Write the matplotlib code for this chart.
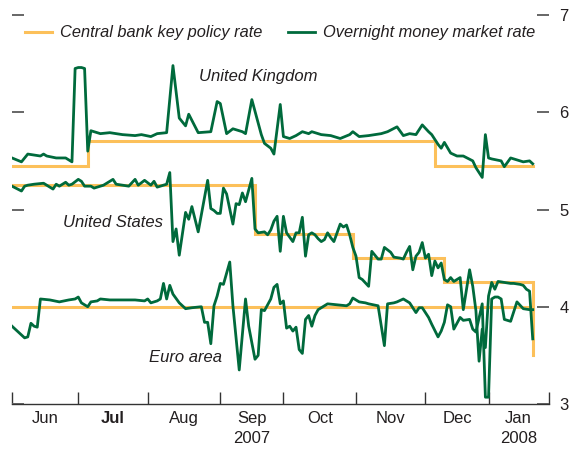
import numpy as np
import pandas as pd
import matplotlib
matplotlib.use("Agg")
import matplotlib.pyplot as plt
from matplotlib.lines import Line2D

# ---------------- data ----------------
holidays = ["2007-12-25", "2008-01-01"]

uk_dates = ["2007-06-01","2007-06-06","2007-06-08","2007-06-12","2007-06-14","2007-06-15","2007-06-18",
 "2007-06-21","2007-06-26","2007-06-28","2007-06-29","2007-07-02","2007-07-03","2007-07-04","2007-07-05",
 "2007-07-06","2007-07-10","2007-07-11","2007-07-16","2007-07-20","2007-07-26","2007-07-30","2007-08-02",
 "2007-08-06","2007-08-09","2007-08-13","2007-08-15","2007-08-17","2007-08-20","2007-08-23","2007-08-29",
 "2007-08-31","2007-09-03","2007-09-05","2007-09-07","2007-09-12","2007-09-13","2007-09-17","2007-09-20",
 "2007-09-21","2007-09-25","2007-09-26","2007-09-28","2007-10-01","2007-10-03","2007-10-05","2007-10-09",
 "2007-10-11","2007-10-12","2007-10-17","2007-10-22","2007-10-25","2007-10-30","2007-10-31","2007-11-02",
 "2007-11-07","2007-11-13","2007-11-15","2007-11-20","2007-11-22","2007-11-26","2007-11-28","2007-11-30",
 "2007-12-04","2007-12-05","2007-12-07","2007-12-10","2007-12-11","2007-12-13","2007-12-17","2007-12-19",
 "2007-12-24","2007-12-26","2007-12-28","2007-12-31","2008-01-02","2008-01-03","2008-01-08","2008-01-09",
 "2008-01-11","2008-01-15","2008-01-17","2008-01-21","2008-01-22"]
uk_overnight = [5.53,5.49,5.57,5.56,5.55,5.57,5.55,
 5.53,5.53,5.49,6.45,6.46,6.46,6.45,5.60,
 5.81,5.79,5.78,5.79,5.77,5.76,5.77,5.75,
 5.78,5.79,6.48,5.94,5.86,5.98,5.79,5.80,
 6.11,6.09,5.78,5.83,5.80,5.78,6.13,5.77,
 5.68,5.63,5.57,6.08,5.75,5.73,5.76,5.80,
 5.78,5.80,5.77,5.76,5.73,5.77,5.80,5.75,
 5.76,5.78,5.80,5.85,5.76,5.78,5.77,5.87,
 5.80,5.77,5.67,5.63,5.69,5.58,5.55,5.55,
 5.50,5.43,5.33,5.77,5.53,5.52,5.50,5.44,
 5.53,5.51,5.49,5.50,5.47]

us_dates = ["2007-06-01","2007-06-06","2007-06-07","2007-06-08","2007-06-12","2007-06-15","2007-06-18",
 "2007-06-20","2007-06-21","2007-06-22","2007-06-26","2007-06-27","2007-06-28","2007-07-02","2007-07-03",
 "2007-07-04","2007-07-06","2007-07-09","2007-07-11","2007-07-12","2007-07-17","2007-07-18","2007-07-20",
 "2007-07-24","2007-07-26","2007-07-27","2007-07-31","2007-08-02","2007-08-03","2007-08-06","2007-08-08",
 "2007-08-09","2007-08-10","2007-08-13","2007-08-14","2007-08-15","2007-08-17","2007-08-20","2007-08-21",
 "2007-08-23","2007-08-28","2007-08-29","2007-08-30","2007-08-31","2007-09-03","2007-09-04","2007-09-05",
 "2007-09-07","2007-09-10","2007-09-11","2007-09-12","2007-09-13","2007-09-17","2007-09-18","2007-09-19",
 "2007-09-21","2007-09-24","2007-09-25","2007-09-26","2007-09-27","2007-09-28","2007-10-01","2007-10-02",
 "2007-10-04","2007-10-05","2007-10-08","2007-10-09","2007-10-10","2007-10-11","2007-10-12","2007-10-15",
 "2007-10-16","2007-10-17","2007-10-18","2007-10-19","2007-10-22","2007-10-23","2007-10-24","2007-10-25",
 "2007-10-26","2007-10-29","2007-10-30","2007-10-31","2007-11-01","2007-11-02","2007-11-05","2007-11-07",
 "2007-11-08","2007-11-12","2007-11-13","2007-11-14","2007-11-16","2007-11-19","2007-11-21","2007-11-22",
 "2007-11-23","2007-11-26","2007-11-27","2007-11-28","2007-11-29","2007-11-30","2007-12-03","2007-12-04",
 "2007-12-05","2007-12-06","2007-12-07","2007-12-10","2007-12-11","2007-12-12","2007-12-13","2007-12-14",
 "2007-12-17","2007-12-18","2007-12-19","2007-12-21","2007-12-24","2007-12-26","2007-12-27","2007-12-28",
 "2007-12-31","2008-01-02","2008-01-03","2008-01-04","2008-01-07","2008-01-09","2008-01-11","2008-01-14",
 "2008-01-16","2008-01-17","2008-01-18","2008-01-21","2008-01-22"]
us_overnight = [5.24,5.19,5.24,5.25,5.26,5.27,5.25,
 5.21,5.26,5.24,5.28,5.25,5.26,5.31,5.29,
 5.24,5.24,5.22,5.24,5.25,5.31,5.26,5.25,
 5.24,5.31,5.25,5.30,5.25,5.29,5.23,5.25,
 5.26,5.38,4.67,4.80,4.53,4.97,4.90,5.03,
 4.77,5.30,5.01,4.99,4.96,4.96,5.22,5.16,
 4.85,5.06,5.05,5.17,5.08,5.32,4.80,4.76,
 4.77,4.74,4.79,4.88,4.93,4.57,4.93,4.76,
 4.67,4.76,4.76,4.92,4.52,4.74,4.76,4.74,
 4.70,4.67,4.69,4.76,4.71,4.67,4.76,4.85,
 4.82,4.84,4.74,4.61,4.52,4.30,4.28,4.21,
 4.57,4.49,4.49,4.61,4.56,4.51,4.50,4.49,
 4.56,4.62,4.38,4.52,4.56,4.66,4.50,4.54,
 4.32,4.47,4.40,4.45,4.28,4.26,4.30,4.26,
 4.28,4.30,3.97,4.38,4.21,3.96,3.44,3.77,
 3.58,4.11,4.25,4.18,4.26,4.25,4.24,4.24,
 4.23,4.22,4.18,4.16,3.67]

ea_dates = ["2007-06-01","2007-06-07","2007-06-08","2007-06-11","2007-06-12","2007-06-13","2007-06-14",
 "2007-06-19","2007-06-22","2007-06-27","2007-06-29","2007-07-02","2007-07-03","2007-07-05","2007-07-06",
 "2007-07-10","2007-07-11","2007-07-16","2007-07-23","2007-07-26","2007-07-31","2007-08-01","2007-08-02",
 "2007-08-06","2007-08-07","2007-08-08","2007-08-09","2007-08-10","2007-08-13","2007-08-15","2007-08-17",
 "2007-08-21","2007-08-24","2007-08-27","2007-08-28","2007-08-29","2007-08-30","2007-08-31","2007-09-03",
 "2007-09-04","2007-09-06","2007-09-07","2007-09-11","2007-09-13","2007-09-14","2007-09-18","2007-09-19",
 "2007-09-20","2007-09-21","2007-09-25","2007-09-26","2007-09-27","2007-09-28","2007-10-01","2007-10-02",
 "2007-10-03","2007-10-04","2007-10-05","2007-10-08","2007-10-09","2007-10-10","2007-10-11","2007-10-12",
 "2007-10-15","2007-10-16","2007-10-19","2007-10-24","2007-10-29","2007-10-30","2007-10-31","2007-11-02",
 "2007-11-06","2007-11-07","2007-11-12","2007-11-14","2007-11-15","2007-11-19","2007-11-20","2007-11-22",
 "2007-11-26","2007-11-28","2007-11-29","2007-11-30","2007-12-04","2007-12-05","2007-12-07","2007-12-10",
 "2007-12-11","2007-12-12","2007-12-13","2007-12-14","2007-12-18","2007-12-19","2007-12-21","2007-12-24",
 "2007-12-26","2007-12-28","2007-12-31","2008-01-02","2008-01-03","2008-01-04","2008-01-07","2008-01-08",
 "2008-01-09","2008-01-11","2008-01-15","2008-01-17","2008-01-21","2008-01-22"]
ea_overnight = [3.80,3.68,3.69,3.83,3.80,3.79,4.08,
 4.07,4.05,4.07,4.08,4.10,4.04,4.00,4.05,
 4.06,4.08,4.07,4.07,4.07,4.06,4.08,4.04,
 4.06,4.08,4.24,4.08,4.22,4.13,4.04,3.98,
 3.99,4.00,3.84,3.84,3.62,4.01,4.11,4.24,
 4.23,4.46,4.01,3.35,4.08,3.80,3.46,3.50,
 3.97,3.96,4.08,4.20,4.23,4.03,4.06,3.78,
 3.80,3.75,3.79,3.56,3.52,3.87,3.91,3.80,
 3.91,3.97,4.03,4.02,4.01,4.03,4.09,4.05,
 4.04,4.03,4.01,3.60,4.03,4.04,4.05,4.08,
 4.04,3.94,3.99,3.99,3.89,3.82,3.69,3.75,
 3.84,4.02,4.00,3.77,3.89,3.86,3.87,3.77,
 3.74,4.03,3.07,3.07,4.08,4.10,4.10,4.08,
 3.87,3.85,4.05,3.98,3.97,3.97]

# policy rates: value from each change date onward, last entry = end of sample
uk_policy_dates = ["2007-06-01", "2007-07-05", "2007-12-06", "2008-01-22"]
uk_policy = [5.45, 5.70, 5.45, 5.45]
us_policy_dates = ["2007-06-01", "2007-09-18", "2007-10-31", "2007-12-11", "2008-01-22"]
us_policy = [5.25, 4.75, 4.50, 4.25, 3.50]
ea_policy_dates = ["2007-06-01", "2008-01-22"]
ea_policy = [4.00, 4.00]

month_labels = ["Jun", "Jul", "Aug", "Sep\n2007", "Oct", "Nov", "Dec", "Jan\n2008"]
month_starts = ["2007-06-01", "2007-07-01", "2007-08-01", "2007-09-01", "2007-10-01",
                "2007-11-01", "2007-12-01", "2008-01-01"]
axis_end = "2008-01-29"
y_ticks = [3, 4, 5, 6, 7]

for d, v in [(uk_dates, uk_overnight), (us_dates, us_overnight), (ea_dates, ea_overnight)]:
    assert len(d) == len(v)

# ---------------- calendar (trading days) ----------------
cal = pd.bdate_range("2007-06-01", "2008-02-15")
cal = cal[~cal.isin(pd.to_datetime(holidays))]


def pos(dates):
    return cal.searchsorted(pd.to_datetime(dates))


ORANGE = "#FCC05A"
GREEN = "#006A3C"
TXT = "#231f20"
FONT = ["Liberation Sans", "DejaVu Sans"]
FS = 12.0
FS_LEG = 11.8

plt.rcParams["font.family"] = FONT

fig = plt.figure(figsize=(5.69, 4.53), dpi=100)
ax = fig.add_axes([12 / 569, 1 - 404 / 453, 536.5 / 569, 389 / 453])

for d, v in [(uk_policy_dates, uk_policy), (us_policy_dates, us_policy), (ea_policy_dates, ea_policy)]:
    ax.plot(pos(d), v, drawstyle="steps-post", color=ORANGE, lw=2.2, solid_joinstyle="miter", zorder=2)
for d, v in [(uk_dates, uk_overnight), (us_dates, us_overnight), (ea_dates, ea_overnight)]:
    ax.plot(pos(d), v, color=GREEN, lw=2.0, solid_joinstyle="round", zorder=3)

ax.set_ylim(3, 7)
x0 = pos(["2007-06-01"])[0]
x1 = pos([axis_end])[0]
ax.set_xlim(x0, x1)

mt = list(pos(month_starts)) + [x1]
ax.set_xticks(mt)
ax.set_xticklabels([])
mids = [(mt[i] + mt[i + 1]) / 2 for i in range(len(mt) - 1)]
ax.set_xticks(mids, minor=True)
ax.set_xticklabels(month_labels, minor=True, fontsize=FS, color=TXT, linespacing=1.4)
for lab in ax.get_xticklabels(minor=True):
    if lab.get_text() == "Jul":
        lab.set_fontweight("bold")
ax.tick_params(axis="x", which="major", direction="in", length=8.5, width=1.0, color="#333333")
ax.tick_params(axis="x", which="minor", length=0, pad=5)

ax.set_yticks(y_ticks)
ax.yaxis.set_ticks_position("both")
ax.tick_params(axis="y", direction="in", length=8.5, width=1.4, color="#666666",
               labelleft=False, labelright=True, labelsize=FS, labelcolor=TXT, pad=8)

for s in ["left", "right", "top"]:
    ax.spines[s].set_visible(False)
ax.spines["bottom"].set_color("#333333")
ax.spines["bottom"].set_linewidth(1.0)

lab_kw = dict(fontsize=FS, style="italic", color=TXT, va="center", ha="left")
ax.text(59.3, 6.37, "United Kingdom", **lab_kw)
ax.text(16.2, 4.87, "United States", **lab_kw)
ax.text(43.4, 3.48, "Euro area", **lab_kw)

handles = [Line2D([], [], color=ORANGE, lw=2.2), Line2D([], [], color=GREEN, lw=2.0)]
leg = fig.legend(handles, ["Central bank key policy rate", "Overnight money market rate"],
                 loc="center left", bbox_to_anchor=(25 / 569, 1 - 33 / 453), ncol=2,
                 frameon=False, borderpad=0, borderaxespad=0, handlelength=1.65,
                 handletextpad=0.49, columnspacing=1.55, prop=dict(family=FONT, size=FS_LEG, style="italic"))
for t in leg.get_texts():
    t.set_color(TXT)

fig.savefig("out.png", dpi=100)
